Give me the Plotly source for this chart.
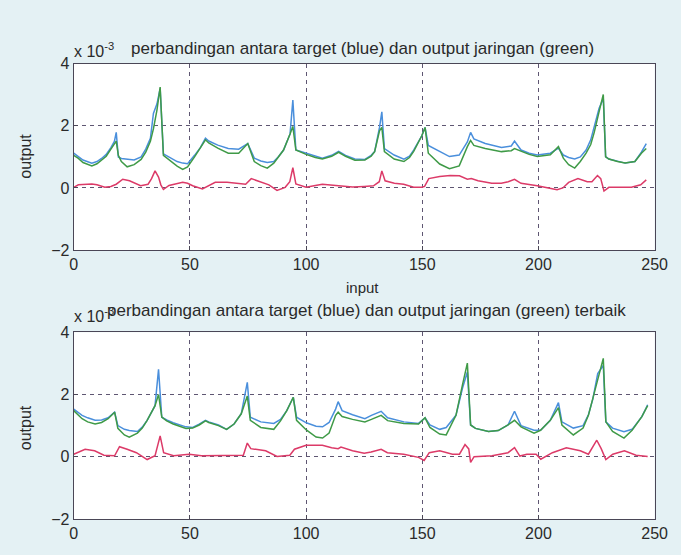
import plotly.graph_objects as go

# ---------------- data (values in units of 1e-3) ----------------
# top panel: target (blue) and network output (green)
top_x = [0, 2, 4, 7.8, 10, 12, 14, 16, 17.5, 18.3, 19.2, 20.5, 23, 26, 29, 31, 33, 34.3, 35.8, 37.2,
         38.6, 42, 44.5, 46.9, 49, 52, 54.5, 56.7, 58.1, 62, 66.5, 71, 74.9, 77.7, 80.5, 83.3, 86.1, 88,
         90.3, 93.1, 94.3, 95.6, 100, 104, 107, 111, 114, 117, 121, 125.3, 128, 129.5, 131.6, 132.6,
         133.7, 137.9, 142.1, 144.5, 146.3, 149.8, 151.2, 152.6, 157.5, 161.7, 165.9, 169.4, 170.8,
         172.2, 177.1, 184.1, 188.3, 189.7, 192.5, 196, 199.5, 205.1, 208.6, 210.7, 213, 215.6, 218,
         220.5, 222.5, 224, 226.1, 227.9, 228.9, 230.3, 234, 237.3, 241.5, 244.3, 246.4]
top_target = [1.12, 1.0, 0.9, 0.8, 0.85, 0.95, 1.08, 1.3, 1.5, 1.79, 1.0, 0.95, 0.92, 0.9, 1.0, 1.25,
              1.6, 2.4, 2.7, 3.2, 1.1, 0.95, 0.85, 0.8, 0.78, 1.05, 1.3, 1.6, 1.51, 1.38, 1.27, 1.25,
              1.43, 0.96, 0.87, 0.82, 0.85, 1.0, 1.22, 1.74, 2.83, 1.22, 1.12, 1.02, 0.96, 1.05, 1.18,
              1.05, 0.93, 0.92, 1.05, 1.17, 1.95, 2.45, 1.27, 1.06, 0.93, 1.02, 1.22, 1.68, 1.95, 1.37,
              1.17, 1.01, 1.06, 1.48, 1.79, 1.58, 1.43, 1.30, 1.35, 1.51, 1.22, 1.12, 1.06, 1.12, 1.28,
              1.06, 0.98, 0.93, 1.0, 1.22, 1.55, 1.99, 2.57, 2.88, 1.01, 0.93, 0.85, 0.80, 0.85, 1.15,
              1.43]
top_output = [1.05, 0.95, 0.82, 0.71, 0.78, 0.9, 1.02, 1.25, 1.4, 1.51, 1.05, 0.85, 0.68, 0.75, 0.92,
              1.15, 1.5, 1.9, 2.5, 3.25, 1.05, 0.85, 0.7, 0.6, 0.68, 1.0, 1.28, 1.55, 1.45, 1.28, 1.12,
              1.12, 1.43, 0.85, 0.72, 0.64, 0.80, 0.98, 1.22, 1.74, 1.98, 1.22, 1.08, 0.98, 0.93, 1.02,
              1.15, 1.02, 0.89, 0.9, 1.02, 1.17, 1.84, 1.95, 1.17, 0.93, 0.85, 0.98, 1.18, 1.68, 1.95,
              1.12, 0.77, 0.62, 0.71, 1.33, 1.53, 1.37, 1.27, 1.17, 1.2, 1.27, 1.18, 1.08, 1.01, 1.07,
              1.33, 0.96, 0.75, 0.64, 0.85, 1.12, 1.4, 1.79, 2.46, 3.01, 1.0, 0.93, 0.85, 0.80, 0.85,
              1.12, 1.27]
# top panel: error (red)
top_err_x = [0, 2, 7.8, 10, 13.4, 16, 18.3, 21.1, 24, 26.5, 28.8, 32, 33.5, 35, 36.5, 37.5, 38.6, 41,
             43, 46.9, 49, 51.2, 55.4, 58, 60.9, 66, 70, 74, 76.4, 80, 84, 87.5, 91, 93, 94.3, 95.6,
             100, 104, 107, 114, 120, 125, 129, 131.5, 132.6, 134, 138, 142, 146.3, 149.8, 151, 152.8,
             157.5, 162, 166, 169.4, 171.1, 174, 179.9, 184, 187, 189.7, 192.5, 199.5, 203, 205.1, 208,
             210.5, 213, 217, 221, 223, 225.4, 226.8, 228.2, 230.3, 240, 244, 246.4]
top_err = [0.02, 0.1, 0.13, 0.1, 0.02, 0.05, 0.12, 0.28, 0.23, 0.15, 0.07, 0.12, 0.3, 0.55, 0.35, 0.1,
           -0.05, 0.08, 0.12, 0.18, 0.15, 0.07, -0.03, 0.08, 0.18, 0.18, 0.15, 0.12, 0.3, 0.2, 0.1,
           -0.08, 0.02, 0.2, 0.65, 0.13, 0.02, 0.08, 0.12, 0.07, 0.03, 0.05, 0.07, 0.2, 0.55, 0.23, 0.15,
           0.12, 0.02, 0.02, 0.05, 0.3, 0.37, 0.4, 0.39, 0.28, 0.3, 0.23, 0.15, 0.15, 0.2, 0.28, 0.15,
           0.07, 0.02, -0.02, -0.06, 0.0, 0.18, 0.3, 0.2, 0.2, 0.4, 0.3, -0.1, 0.02, 0.02, 0.1, 0.26]

# bottom panel ("terbaik"): target (blue) and network output (green)
bot_x = [0, 3.6, 6, 9.2, 12, 14.8, 17.6, 19, 21.8, 23.9, 27.4, 29.5, 31.6, 35, 36.5, 37.9, 40, 42.8,
         48.3, 51.2, 54, 56.7, 58.1, 62.3, 65.8, 69, 72.1, 74.7, 76.0, 80.5, 86.1, 89, 91.7, 94.5,
         95.9, 100.1, 104.3, 107.1, 109.9, 112.7, 113.8, 115.5, 120, 125.3, 128.1, 132.3, 135.1,
         142.1, 148.4, 151.2, 153.3, 157.5, 160.3, 164.5, 167.3, 169.4, 170.8, 172.9, 178.5, 182.7,
         186.9, 189.7, 192.5, 198.1, 200.9, 205.1, 208.6, 210.1, 215, 219.2, 221.5, 223.4, 225.5,
         227.9, 229, 231.9, 236.8, 240.3, 244.5, 247]
bot_target = [1.53, 1.33, 1.25, 1.17, 1.18, 1.25, 1.43, 1.0, 0.88, 0.84, 0.81, 0.95, 1.17, 1.64, 2.81,
              1.27, 1.18, 1.09, 0.96, 0.94, 1.05, 1.17, 1.12, 1.02, 0.88, 1.05, 1.38, 2.39, 1.27,
              1.12, 1.07, 1.2, 1.48, 1.91, 1.27, 1.09, 0.98, 0.96, 1.1, 1.53, 1.77, 1.48, 1.35, 1.22,
              1.33, 1.46, 1.25, 1.12, 1.07, 1.25, 1.02, 0.88, 0.94, 1.33, 2.2, 2.72, 1.02, 0.91, 0.81,
              0.84, 1.02, 1.46, 1.0, 0.85, 0.85, 1.17, 1.74, 1.12, 0.92, 1.0, 1.35, 1.85, 2.67, 2.93,
              1.12, 0.92, 0.80, 0.88, 1.29, 1.67]
bot_output = [1.48, 1.22, 1.12, 1.05, 1.1, 1.22, 1.43, 0.91, 0.70, 0.63, 0.76, 0.92, 1.17, 1.64, 2.0,
              1.27, 1.15, 1.05, 0.91, 0.92, 1.02, 1.15, 1.1, 1.0, 0.88, 1.05, 1.38, 1.95, 1.17, 0.94,
              0.88, 1.15, 1.48, 1.91, 1.17, 0.86, 0.63, 0.60, 0.76, 1.33, 1.43, 1.29, 1.2, 1.12, 1.2,
              1.33, 1.16, 1.07, 1.05, 1.25, 0.94, 0.73, 0.70, 1.33, 2.31, 3.01, 1.02, 0.91, 0.81, 0.84,
              1.02, 1.17, 0.96, 0.76, 0.85, 1.17, 1.58, 1.02, 0.70, 0.92, 1.33, 1.85, 2.5, 3.16, 1.12,
              0.81, 0.60, 0.85, 1.29, 1.64]
# bottom panel: error (red)
bot_err_x = [0, 4.9, 9, 13, 17.6, 19.7, 23, 27, 31.6, 35, 37.2, 38.7, 43, 49.7, 55, 62, 70, 73, 74.7,
             76.2, 82.6, 87.5, 93, 95, 100, 107, 111, 113.8, 115, 120, 125, 128, 132.3, 135, 142,
             148.4, 150.8, 153, 157.5, 163, 166, 168.4, 170, 170.8, 172.3, 180, 186.9, 189.7, 192, 195,
             199, 201, 206, 212, 218, 221.5, 225.1, 227, 229, 232, 237, 242, 247]
bot_err = [0.08, 0.24, 0.19, 0.05, 0.03, 0.32, 0.24, 0.13, -0.09, 0.03, 0.67, 0.13, 0.03, 0.08, 0.03,
           0.03, 0.03, 0.05, 0.44, 0.26, 0.19, 0.01, 0.05, 0.24, 0.37, 0.37, 0.29, 0.26, 0.31, 0.19,
           0.11, 0.15, 0.24, 0.13, 0.08, -0.02, -0.12, 0.13, 0.19, 0.08, 0.08, 0.39, 0.25, -0.18, 0.0,
           0.03, 0.13, 0.29, 0.02, 0.08, 0.08, -0.08, 0.13, 0.29, 0.19, 0.08, 0.53, 0.26, -0.09, 0.08,
           0.19, 0.05, 0.01]

x_ticks = [0, 50, 100, 150, 200, 250]
y_ticks = [-2, 0, 2, 4]
top_title = "perbandingan antara target (blue) dan output jaringan (green)"
bot_title = "perbandingan antara target (blue) dan output jaringan (green) terbaik"

# ---------------- styling ----------------
W, H = 681, 555
BLUE, GREEN, RED = "#4a8fdc", "#3f9a47", "#dc3a68"
GRID = "#5e5672"
FONT = "Liberation Sans, Arial, sans-serif"

fig = go.Figure()
for xs, ys, col, ax in [(top_x, top_target, BLUE, "1"), (top_x, top_output, GREEN, "1"),
                        (top_err_x, top_err, RED, "1"),
                        (bot_x, bot_target, BLUE, "2"), (bot_x, bot_output, GREEN, "2"),
                        (bot_err_x, bot_err, RED, "2")]:
    fig.add_trace(go.Scatter(x=xs, y=ys, mode="lines", line=dict(color=col, width=1.5),
                             xaxis="x" + ("" if ax == "1" else ax),
                             yaxis="y" + ("" if ax == "1" else ax),
                             showlegend=False, hoverinfo="skip"))

x0, x1 = 71.5 / W, 667.3 / W
def ydom(top_px, bot_px):
    return [(H - bot_px) / H, (H - top_px) / H]

axis_common = dict(showline=True, mirror=True, linecolor="#4a4656", linewidth=1,
                   showgrid=True, gridcolor=GRID, griddash="4px,4px", gridwidth=1,
                   zeroline=False, ticks="inside", ticklen=4, tickcolor="#4a4656",
                   tickfont=dict(family=FONT, size=16, color="#2a2a2a"))

fig.update_layout(
    width=W, height=H, margin=dict(l=0, r=0, t=0, b=0),
    paper_bgcolor="#e4f1f4", plot_bgcolor="white",
    xaxis=dict(domain=[x0, x1], range=[0, 250], tickvals=x_ticks, anchor="y", **axis_common),
    yaxis=dict(domain=ydom(57.5, 249.7), range=[-2, 4], tickvals=y_ticks, anchor="x", **axis_common),
    xaxis2=dict(domain=[x0, x1], range=[0, 250], tickvals=x_ticks, anchor="y2", **axis_common),
    yaxis2=dict(domain=ydom(334.5, 527.1), range=[-2, 4], tickvals=y_ticks, anchor="x2", **axis_common),
)

def ann(text, xp, yp, size=15, xanchor="center", angle=0):
    fig.add_annotation(text=text, x=xp / W, y=(H - yp) / H, xref="paper", yref="paper",
                       showarrow=False, xanchor=xanchor, yanchor="middle", textangle=angle,
                       font=dict(family=FONT, size=size, color="#2a2a2a"))

ann(top_title, 368, 42, size=17)
ann("x 10<sup>-3</sup>", 70, 43, size=16, xanchor="left")
ann("output", 22, 153, size=16, angle=-90)
ann("input", 368, 288, size=15)
ann(bot_title, 372, 312, size=17)
ann("x 10<sup>-3</sup>", 70, 317, size=16, xanchor="left")
ann("output", 22, 433, size=16, angle=-90)

fig.write_html("out.html")
